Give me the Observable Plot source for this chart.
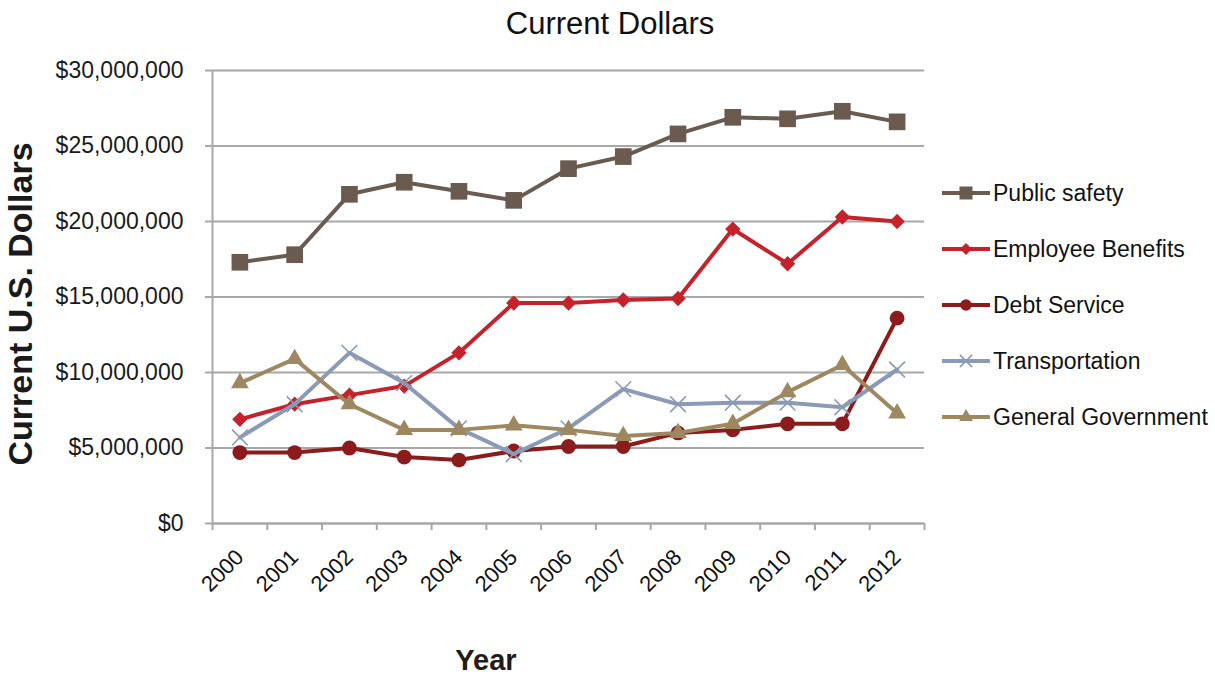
<!DOCTYPE html>
<html>
<head>
<meta charset="utf-8">
<script src="https://cdn.jsdelivr.net/npm/d3@7"></script>
<script src="https://cdn.jsdelivr.net/npm/@observablehq/plot@0.6"></script>
<style>
  html, body { margin: 0; padding: 0; background: #fff; }
  #wrap { position: relative; width: 1215px; height: 675px; font-family: "Liberation Sans", Arial, sans-serif; }
  #wrap > svg { position: absolute; left: 0; top: 0; }
  .title { position: absolute; left: 0; width: 1220px; top: 6px; text-align: center; font-size: 31px; color: #111; }
  .xlabel { position: absolute; left: 486px; top: 644px; transform: translateX(-50%); font-size: 29px; font-weight: bold; color: #231a1a; }
</style>
</head>
<body>
<div id="wrap">
  <div class="title">Current Dollars</div>
  <div class="xlabel">Year</div>
</div>
<script>
// ---- data (millions of current U.S. dollars) ----
const years = [2000, 2001, 2002, 2003, 2004, 2005, 2006, 2007, 2008, 2009, 2010, 2011, 2012];
const publicSafety       = [17.3, 17.8, 21.8, 22.6, 22.0, 21.4, 23.5, 24.3, 25.8, 26.9, 26.8, 27.3, 26.6];
const employeeBenefits   = [6.9, 7.9, 8.5, 9.1, 11.3, 14.6, 14.6, 14.8, 14.9, 19.5, 17.2, 20.3, 20.0];
const debtService        = [4.7, 4.7, 5.0, 4.4, 4.2, 4.8, 5.1, 5.1, 6.0, 6.2, 6.6, 6.6, 13.6];
const transportation     = [5.7, 7.9, 11.3, 9.3, 6.3, 4.6, 6.3, 8.9, 7.9, 8.0, 8.0, 7.7, 10.2];
const generalGovernment  = [9.3, 10.9, 7.9, 6.2, 6.2, 6.5, 6.2, 5.8, 6.0, 6.6, 8.7, 10.5, 7.3];

const seriesNames   = ["Public safety", "Employee Benefits", "Debt Service", "Transportation", "General Government"];
const seriesValues  = [publicSafety, employeeBenefits, debtService, transportation, generalGovernment];
const seriesColors  = ["#6a5a4f", "#c4232b", "#8c1c1c", "#8b9ab6", "#9e8861"];
const seriesSymbols = ["square", "diamond2", "circle", "times", "triangle"];
const seriesR       = [9.4, 6.9, 7.4, 7.2, 6.6];
const yTicks = [0, 5e6, 10e6, 15e6, 20e6, 25e6, 30e6];
const xBoundaries = d3.range(years[0] - 0.5, years[years.length - 1] + 1, 1);

const series = seriesNames.map((name, i) => ({
  name, color: seriesColors[i], symbol: seriesSymbols[i], r: seriesR[i],
  data: years.map((y, j) => ({ year: y, value: seriesValues[i][j] * 1e6 }))
}));

const gray = "#a8a8a8";
const marks = [
  Plot.gridY(yTicks, { stroke: gray, strokeOpacity: 1, strokeWidth: 2 }),
  Plot.ruleX([xBoundaries[0]], { stroke: gray, strokeWidth: 2 }),
  Plot.ruleY([0], { stroke: gray, strokeWidth: 2 }),
  Plot.axisY(yTicks, {
    tickSize: 7, tickPadding: 22, fontSize: 23,
    tickFormat: d => "$" + d3.format(",")(d),
    stroke: gray, strokeWidth: 2, fill: "#1a1a1a", label: null
  }),
  Plot.axisX(xBoundaries, {
    tickSize: 7, tickFormat: () => "", stroke: gray, strokeWidth: 2, label: null
  }),
  Plot.axisX(years, {
    tickSize: 0, tickPadding: 30, tickRotate: -45, fontSize: 22,
    tickFormat: d => String(d), fill: "#111", label: null
  })
];
for (const s of series) {
  marks.push(Plot.line(s.data, { x: "year", y: "value", stroke: s.color, strokeWidth: 4 }));
  if (s.symbol === "times") {
    marks.push(Plot.dot(s.data, { x: "year", y: "value", symbol: s.symbol, r: s.r, stroke: s.color, strokeWidth: 1.6 }));
  } else {
    marks.push(Plot.dot(s.data, { x: "year", y: "value", symbol: s.symbol, r: s.r, fill: s.color, stroke: "none" }));
  }
}

const chart = Plot.plot({
  width: 1215, height: 675,
  marginLeft: 212, marginRight: 291, marginTop: 70, marginBottom: 152,
  style: { fontFamily: "Liberation Sans, Arial, sans-serif", background: "transparent", overflow: "visible" },
  x: { type: "linear", domain: [xBoundaries[0], xBoundaries[xBoundaries.length - 1]], axis: null },
  y: { domain: [0, 30e6], axis: null },
  marks
});
const wrap = document.getElementById("wrap");
wrap.insertBefore(chart, wrap.firstChild);

// ---- overlay: y label + legend ----
const ov = d3.select(wrap).append("svg")
  .attr("width", 1215).attr("height", 675)
  .style("pointer-events", "none");

ov.append("text")
  .attr("transform", "translate(32,304) rotate(-90)")
  .attr("text-anchor", "middle")
  .attr("font-family", "Liberation Sans, Arial, sans-serif")
  .attr("font-size", 34).attr("font-weight", "bold").attr("fill", "#1a1a1a")
  .text("Current U.S. Dollars");

const d3sym = { square: d3.symbolSquare, diamond2: d3.symbolDiamond2, circle: d3.symbolCircle, times: d3.symbolTimes, triangle: d3.symbolTriangle };
series.forEach((s, i) => {
  const g = ov.append("g").attr("transform", `translate(0,${193 + 56 * i})`);
  g.append("line").attr("x1", 942).attr("x2", 990).attr("y1", 0).attr("y2", 0)
    .attr("stroke", s.color).attr("stroke-width", 4);
  const r = s.r * 0.78;
  const p = g.append("path")
    .attr("transform", "translate(966,0)")
    .attr("d", d3.symbol(d3sym[s.symbol], Math.PI * r * r)());
  if (s.symbol === "times") p.attr("fill", "none").attr("stroke", s.color).attr("stroke-width", 1.6);
  else p.attr("fill", s.color);
  g.append("text").attr("x", 993).attr("y", 0).attr("dy", "0.35em")
    .attr("font-family", "Liberation Sans, Arial, sans-serif")
    .attr("font-size", 23).attr("fill", "#111")
    .text(s.name);
});
</script>
</body>
</html>
